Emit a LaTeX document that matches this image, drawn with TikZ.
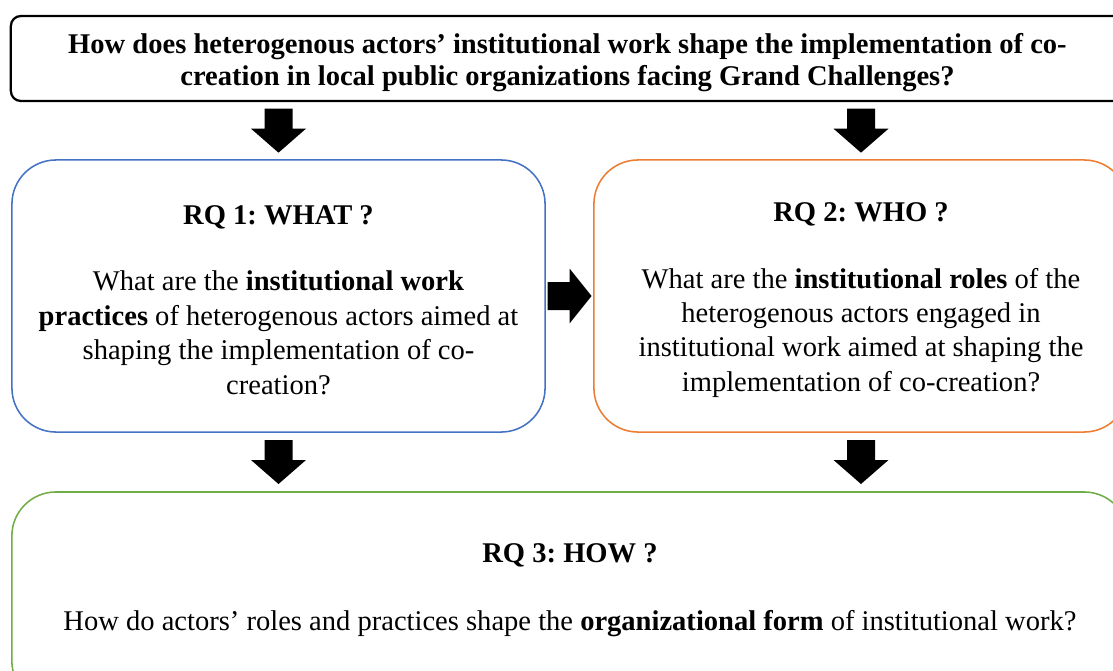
\documentclass[tikz,border=0pt]{standalone}
\usepackage{fontspec}
\setmainfont{Liberation Serif}
\usetikzlibrary{positioning,calc}
\definecolor{rqblue}{HTML}{4472C4}
\definecolor{rqorange}{HTML}{ED7D31}
\definecolor{rqgreen}{HTML}{70AD47}
\tikzset{
  mainq/.style={draw=black, line width=1.6pt, rounded corners=0.25cm, minimum width=27.825cm, minimum height=2.125cm, align=center, font=\fontsize{20.3}{22.8}\selectfont\bfseries\frenchspacing},
  rqbox/.style={draw=#1, line width=1.1pt, rounded corners=1.1cm, align=center, font=\fontsize{20.3}{24.5}\selectfont\frenchspacing},
  rqtext/.style={align=center, font=\fontsize{20.3}{24.5}\selectfont\frenchspacing},
}
\begin{document}
\begin{tikzpicture}[x=0.025cm, y=-0.025cm]
\useasboundingbox (0,0) rectangle (1113,671);
% main question
\node[mainq] (q) at (567.5,58.5) {\rule{0pt}{20pt}How does heterogenous actors’ institutional work shape the implementation of co-\\creation in local public organizations facing Grand Challenges?};
% sub questions
\node[rqbox=rqblue, minimum width=13.325cm, minimum height=6.8cm] (rq1) at (278.5,296) {\rule{0pt}{19pt}\textbf{RQ 1: WHAT ?}\\[23pt]What are the \textbf{institutional work}\\\textbf{practices} of heterogenous actors aimed at\\shaping the implementation of co-\\creation?};
\node[rqbox=rqorange, minimum width=13.35cm, minimum height=6.8cm] (rq2) at (861,296) {\rule{0pt}{19pt}\textbf{RQ 2: WHO ?}\\[23pt]What are the \textbf{institutional roles} of the\\heterogenous actors engaged in\\institutional work aimed at shaping the\\implementation of co-creation?};
\node[rqbox=rqgreen, minimum width=27.9cm, minimum height=5.325cm] (rq3) at (570,598.5) {};
\node[rqtext] (rq3txt) at (570,590) {\textbf{RQ 3: HOW ?}\\[24pt]How do actors’ roles and practices shape the \textbf{organizational form} of institutional work?};
% block arrows
\coordinate (a1) at ($(q.south -| rq1.north)!0.5!(rq1.north)$);
\coordinate (a2) at ($(q.south -| rq2.north)!0.5!(rq2.north)$);
\coordinate (a3) at ($(rq1.east)!0.5!(rq2.west)$);
\coordinate (a4) at ($(rq1.south)!0.5!(rq3.north -| rq1.south)$);
\coordinate (a5) at ($(rq2.south)!0.5!(rq3.north -| rq2.south)$);
\fill (a1) ++(-14,-22) -- ++(28,0) -- ++(0,20) -- ++(13.5,0) -- ++(-27.5,24) -- ++(-27.5,-24) -- ++(13.5,0) -- cycle;
\fill (a2) ++(-14,-22) -- ++(28,0) -- ++(0,20) -- ++(13.5,0) -- ++(-27.5,24) -- ++(-27.5,-24) -- ++(13.5,0) -- cycle;
\fill (a3) ++(-22,-14) -- ++(22,0) -- ++(0,-13.5) -- ++(22,27.5) -- ++(-22,27.5) -- ++(0,-13.5) -- ++(-22,0) -- cycle;
\fill (a4) ++(-14,-22) -- ++(28,0) -- ++(0,20) -- ++(13.5,0) -- ++(-27.5,24) -- ++(-27.5,-24) -- ++(13.5,0) -- cycle;
\fill (a5) ++(-14,-22) -- ++(28,0) -- ++(0,20) -- ++(13.5,0) -- ++(-27.5,24) -- ++(-27.5,-24) -- ++(13.5,0) -- cycle;
\end{tikzpicture}
\end{document}
